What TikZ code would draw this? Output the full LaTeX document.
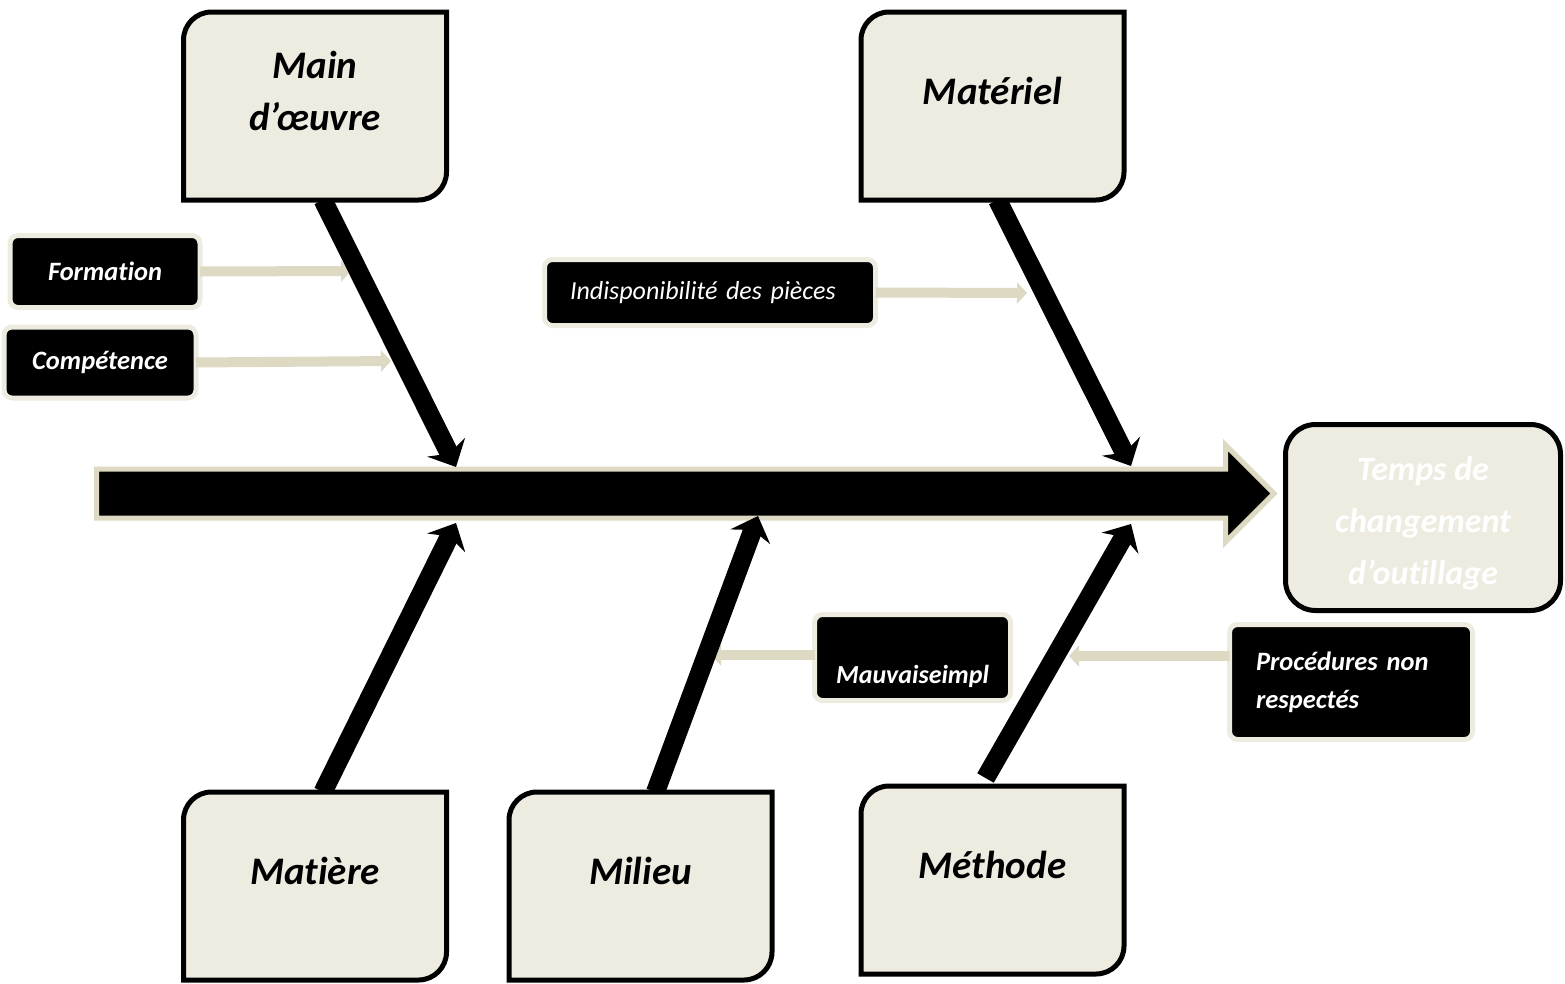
\documentclass[tikz,border=0pt]{standalone}
\usepackage{fontspec}
\setmainfont{Carlito}[Ligatures=NoCommon]
\usetikzlibrary{arrows.meta,positioning}
\definecolor{tan}{HTML}{EEECE1}
\definecolor{tandark}{HTML}{DDD9C3}
% frame with two rounded corners round an (invisible) category box
\newcommand\catframe[1]{%
  \draw[catline] (#1.south west) -- ([yshift=-28pt]#1.north west)
    arc[start angle=180,end angle=90,radius=28pt] -- (#1.north east)
    -- ([yshift=28pt]#1.south east)
    arc[start angle=0,end angle=-90,radius=28pt] -- cycle;}

\begin{document}
\begin{tikzpicture}[x=1pt,y=-1pt,% pixel-like units, y downwards
    catbox/.style={minimum width=263pt,minimum height=188pt,inner sep=0pt,outer sep=0pt},
    catline/.style={draw=black,line width=5pt,fill=tan},
    cattext/.style={font=\fontsize{39}{52}\selectfont\bfseries\itshape,align=center},
    effect/.style={draw=black,line width=5pt,fill=tan,rounded corners=30pt,
      minimum width=275pt,minimum height=186pt,text=white,align=center,
      font=\fontsize{34}{52}\selectfont\bfseries\itshape},
    cause/.style={fill=black,draw=tan,line width=5pt,rounded corners=8pt,
      text=white,inner sep=0pt,outer sep=0pt,
      font=\fontsize{26.5}{38}\selectfont\bfseries\itshape},
    bone/.style={line width=19pt,-{Stealth[length=22pt,width=42pt,inset=7pt]}},
    sub/.style={draw=tandark,line width=10pt,-{Triangle[length=10pt,width=21pt]}}
  ]
  \useasboundingbox (0,0) rectangle (1565,983);

  % category boxes (frames are drawn later, over the bones)
  \node[catbox] (mo) at (315,106) {};
  \node[catbox] (ma) at (992.5,106) {};
  \node[catbox] (mi) at (315,886) {};
  \node[catbox] (ml) at (640.5,886) {};
  \node[catbox] (me) at (992.5,880) {};

  % spine
  \filldraw[fill=black,draw=tandark,line width=5pt]
    (96.5,469) -- (1225.5,469) -- (1225.5,445) -- (1274,493.5)
    -- (1225.5,542) -- (1225.5,518) -- (96.5,518) -- cycle;
  \node[effect] (te) at (1423,517.5) {};
  \node[effect,draw=none,fill=none] (te-t) at ([yshift=-6pt]te.center) {Temps de\\changement\\d’outillage};

  % causes
  \node[cause,minimum width=190pt,minimum height=72pt] (fo) at (105,271.5) {Formation};
  \node[cause,minimum width=192pt,minimum height=71pt] (co) at (100,362.5) {Compétence};
  \node[cause,minimum width=331pt,minimum height=66pt,text width=280pt,align=left,
    font=\fontsize{26}{38}\selectfont\itshape] (in) at (710,292.5) {Indisponibilité des pièces};
  \node[cause,minimum width=196pt,minimum height=86pt,text height=57pt,text depth=6pt,
    font=\fontsize{26}{38}\selectfont\bfseries\itshape] (mv) at (912.5,657.5) {Mauvaiseimpl};
  \node[cause,minimum width=243pt,minimum height=115pt,text width=190pt,align=left] (pr)
    at (1351,682) {Procédures non\\respectés};

  % points on the bones
  \coordinate (k1) at (351,271);
  \coordinate (k2) at (391,361);
  \coordinate (k3) at (1027,293);
  \coordinate (k4) at (711,655);
  \coordinate (k5) at (1069,656);
  \draw[sub] (fo.east) -- (k1);
  \draw[sub] (co.east) -- (k2);
  \draw[sub] (in.east) -- (k3);
  \draw[sub] (k4 -| mv.west) -- (k4);
  \draw[sub] (k5 -| pr.west) -- (k5);

  % bones
  \coordinate (j1) at (456,467);
  \coordinate (j2) at (1131,466);
  \coordinate (j3) at (456,523);
  \coordinate (j4) at (758,516);
  \coordinate (j5) at (1131,524);
  \draw[bone] ([xshift=8pt]mo.south) -- (j1);
  \draw[bone] ([xshift=5pt]ma.south) -- (j2);
  \draw[bone] ([xshift=8pt]mi.north) -- (j3);
  \draw[bone] ([xshift=15pt]ml.north) -- (j4);
  \draw[bone] ([shift={(-7pt,8pt)}]me.north) -- (j5);

  \catframe{mo}
  \catframe{ma}
  \catframe{mi}
  \catframe{ml}
  \catframe{me}
  \node[cattext] (mo-t) at ([yshift=15pt]mo.center) {Main\\d’œuvre};
  \node[cattext] (ma-t) at ([yshift=15pt]ma.center) {Matériel};
  \node[cattext] (mi-t) at ([yshift=15pt]mi.center) {Matière};
  \node[cattext] (ml-t) at ([yshift=15pt]ml.center) {Milieu};
  \node[cattext] (me-t) at ([yshift=15pt]me.center) {Méthode};
\end{tikzpicture}
\end{document}
